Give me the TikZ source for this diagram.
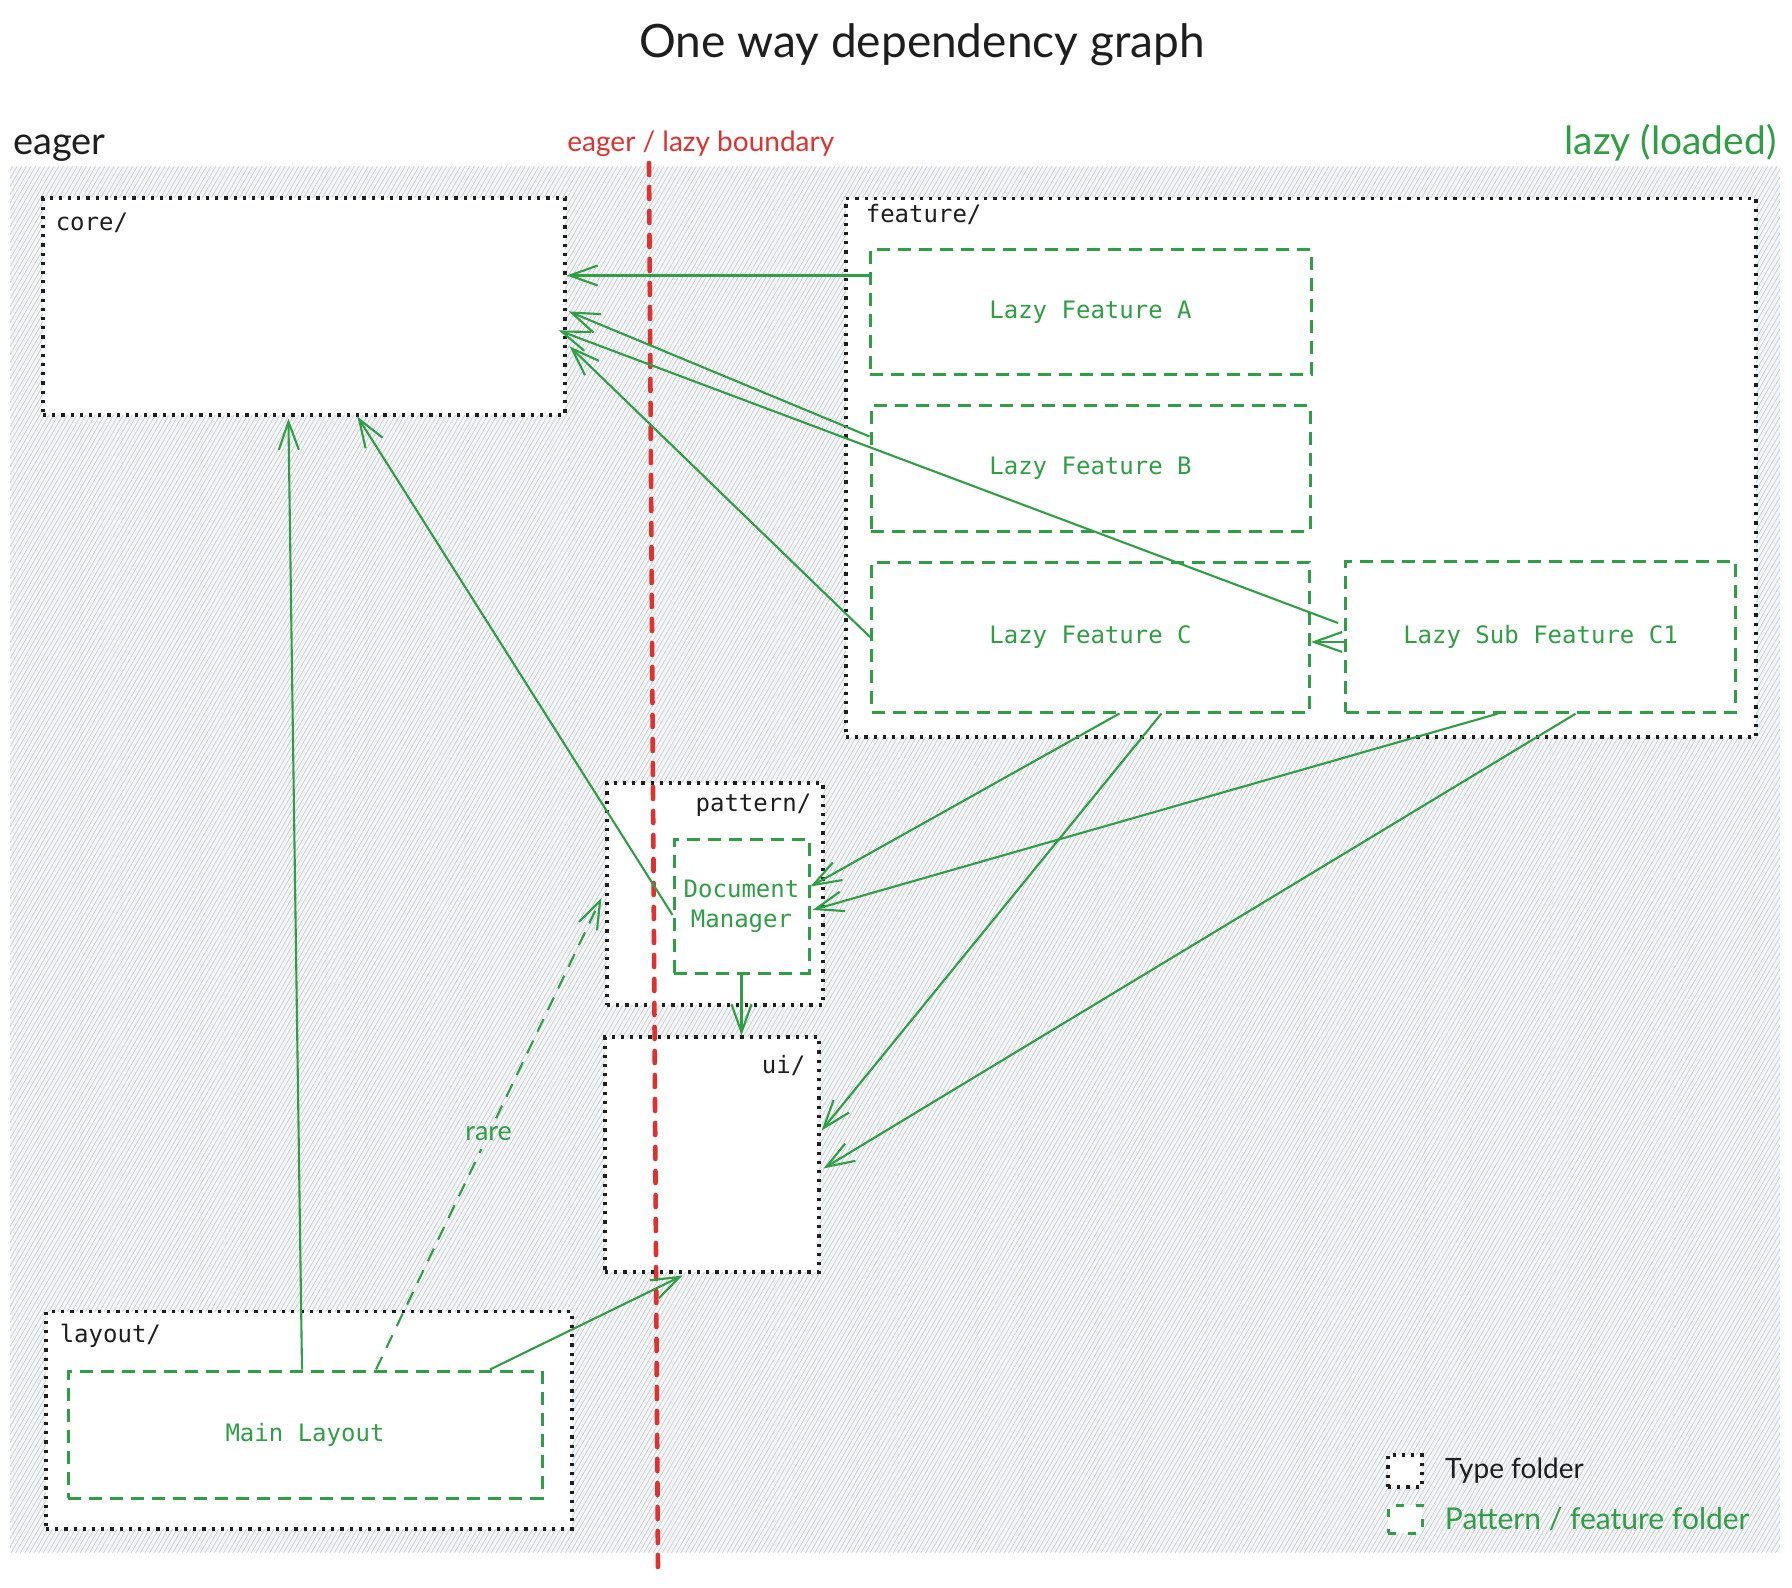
\documentclass[tikz,border=0pt]{standalone}
\usepackage{fontspec}
\setmainfont{Lato}
\setmonofont{DejaVu Sans Mono}
\usetikzlibrary{arrows.meta,positioning,calc,patterns.meta}

\definecolor{exgreen}{HTML}{2F9E44}
\definecolor{exred}{HTML}{E03131}
\definecolor{exink}{HTML}{1E1E1E}
\definecolor{bgfill}{HTML}{F5F6F7}
\definecolor{bghatch}{HTML}{CDD2D6}

\begin{document}
\begin{tikzpicture}[
    x=0.5pt, y=-0.5pt,
    % --- global styles ---
    hand text/.style={inner sep=0pt, text=exink},
    folder label/.style={font=\ttfamily\fontsize{12}{14}\selectfont, text=exink, inner sep=0pt},
    % dotted black box (type folder)
    type folder/.style={draw=exink, fill=white, line width=1.6pt, dash pattern=on 1.6pt off 3pt, inner sep=0pt},
    % dashed green box (pattern / feature folder)
    feature folder/.style={draw=exgreen, fill=white, line width=1.5pt, dash pattern=on 6.5pt off 4pt,
        text=exgreen, font=\ttfamily\fontsize{12}{15}\selectfont, align=center, inner sep=0pt},
    % green dependency arrow
    dep path/.style={draw=exgreen, line width=1.05pt, -{Straight Barb[length=14pt, width=10pt]}},
    rare path/.style={dep path, dash pattern=on 7pt off 5pt},
    % red eager / lazy boundary
    boundary/.style={draw=exred, line width=2.3pt, dash pattern=on 6pt off 6pt, line cap=round}
]

    % --- 0. canvas and hatched background ---
    \useasboundingbox (0,0) rectangle (1792,1588);
    \path[fill=bgfill] (10,167) rectangle (1780,1552);
    \path[pattern={Lines[angle=60, distance=2pt, line width=0.4pt]}, pattern color=bghatch]
        (10,167) rectangle (1780,1552);

    % --- 1. titles ---
    \node[hand text, font=\fontsize{23}{28}\selectfont, anchor=base] (title) at (922,58) {One way dependency graph};
    \node[hand text, font=\fontsize{19}{22}\selectfont, anchor=base west] (eager_lbl) at (13,155) {eager};
    \node[hand text, font=\fontsize{14}{16}\selectfont, text=exred, anchor=base west] (bnd_lbl) at (567,152) {eager / lazy boundary};
    \node[hand text, font=\fontsize{19.5}{22}\selectfont, text=exgreen, anchor=base east] (lazy_lbl) at (1777,155) {lazy (loaded)};

    % --- 2. type folders ---
    \node[type folder, minimum width=261pt, minimum height=108.5pt] (core) at (304,306.5) {};
    \node[folder label, anchor=base west] at ($(core.north west)+(14,34)$) {core/};

    \node[type folder, minimum width=455pt, minimum height=269.25pt] (feature) at (1301,467.75) {};
    \node[folder label, anchor=base west] at ($(feature.north west)+(21,26)$) {feature/};

    \node[type folder, minimum width=108pt, minimum height=111pt] (pattern) at (715,894) {};
    \node[folder label, anchor=base east] at ($(pattern.north east)+(-13,30)$) {pattern/};

    \node[type folder, minimum width=107pt, minimum height=117.5pt] (ui) at (712,1154.5) {};
    \node[folder label, anchor=base east] at ($(ui.north east)+(-15,38)$) {ui/};

    \node[type folder, minimum width=263pt, minimum height=108.75pt] (layout) at (309,1420.25) {};
    \node[folder label, anchor=base west] at ($(layout.north west)+(15,33)$) {layout/};

    % --- 3. pattern / feature folders ---
    \node[feature folder, minimum width=220.5pt, minimum height=62.5pt] (featA) at (1090.5,312.5) {Lazy Feature A};
    \node[feature folder, minimum width=219.5pt, minimum height=62.5pt, below=14pt of featA] (featB) {Lazy Feature B};
    \node[feature folder, minimum width=219pt, minimum height=75pt, below=14pt of featB] (featC) {Lazy Feature C};
    \node[feature folder, minimum width=195pt, minimum height=75.25pt, right=16.5pt of featC] (featC1) {Lazy Sub Feature C1};

    \node[feature folder, minimum width=67.5pt, minimum height=67pt] (dm) at (741.5,906) {Document\\Manager};
    \node[feature folder, minimum width=237pt, minimum height=63.5pt] (mainlay) at (305,1434.5) {Main Layout};

    % --- 4. eager / lazy boundary ---
    \coordinate (bnd_top) at (649,163);
    \coordinate (bnd_bottom) at (658,1571);
    \draw[boundary] (bnd_top) -- (bnd_bottom);

    % --- 5. dependencies ---
    % [into core/]
    \coordinate (a_out) at ($(featA.north west)+(0,27)$);
    \draw[dep path] (a_out) -- (core.east |- a_out);
    \draw[dep path] ($(featB.north west)+(0,32)$) -- ($(core.north east)+(2,115)$);
    \draw[dep path] ($(featC1.west)+(-6,-14)$) -- ($(core.north east)+(-8,134)$);
    \draw[dep path] (featC.west) -- ($(core.north east)+(3,150)$);
    \draw[dep path] ($(dm.west)+(0,9)$) -- ($(core.south west)+(316,0)$);
    \draw[dep path] ($(mainlay.north)+(-3,0)$) -- ($(core.south west)+(247,2)$);

    % [sub feature into its parent]
    \coordinate (c1_out) at ($(featC1.west)+(0,5)$);
    \draw[dep path] (c1_out) -- (c1_out -| featC.east);

    % [into pattern/ and Document Manager]
    \coordinate (rare_start) at ($(mainlay.north)+(71,0)$);
    \coordinate (rare_end) at ($(pattern.west)+(-4,4)$);
    \node[hand text, inner sep=4pt, text=exgreen, font=\fontsize{13.5}{16}\selectfont] (rare_lbl)
        at ($(rare_start)!0.5!(rare_end)$) {rare};
    \draw[rare path, -] (rare_start) -- (rare_lbl);
    \draw[rare path] (rare_lbl) -- (rare_end);
    \draw[dep path] ($(featC.south)+(29,0)$) -- ($(dm.north east)+(0,49)$);
    \draw[dep path] ($(featC1.south)+(-43,0)$) -- ($(dm.east)+(2,4)$);

    % [into ui/]
    \draw[dep path] (dm.south) -- (dm.south |- ui.north);
    \draw[dep path] ($(featC.south)+(71,0)$) -- ($(ui.north east)+(1,95)$);
    \draw[dep path] ($(featC1.south)+(35,0)$) -- ($(ui.north east)+(3,133)$);
    \draw[dep path] ($(mainlay.north)+(185,0)$) -- ($(ui.south west)+(79,2)$);

    % --- 6. legend ---
    \node[type folder, minimum width=17pt, minimum height=16pt] (leg_type) at (1405,1471) {};
    \node[hand text, font=\fontsize{14}{16}\selectfont, right=10.5pt of leg_type] (leg_type_lbl) {Type folder};
    \node[feature folder, minimum width=17pt, minimum height=14pt, dash pattern=on 4pt off 6pt] (leg_feat) at (1405,1519) {};
    \node[hand text, text=exgreen, font=\fontsize{15}{17}\selectfont, right=10.5pt of leg_feat] (leg_feat_lbl) {Pattern / feature folder};

\end{tikzpicture}
\end{document}
